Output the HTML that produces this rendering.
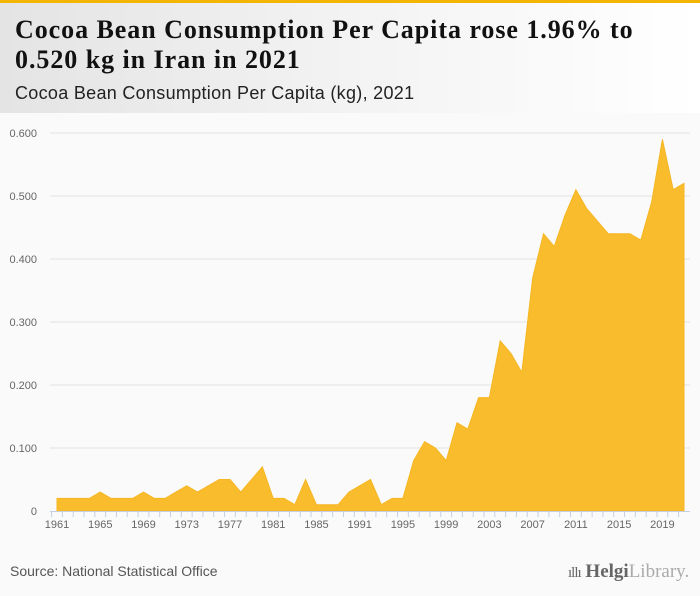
<!DOCTYPE html>
<html><head><meta charset="utf-8"><style>
body{margin:0;width:700px;height:596px;background:#fafafa;position:relative;overflow:hidden;font-family:"Liberation Sans",sans-serif}
#hdr{position:absolute;left:0;top:0;width:700px;height:113px;background:linear-gradient(90deg,#e4e4e4 0%,#f3f3f3 50%,#fff 100%);border-top:3px solid #f5b400;box-sizing:border-box}
#title{position:absolute;left:15px;top:12px;font-family:"Liberation Serif",serif;font-weight:bold;font-size:26px;line-height:30px;color:#111;letter-spacing:0.95px;white-space:nowrap}
#sub{position:absolute;left:15px;top:80px;font-size:18px;color:#222;letter-spacing:0.3px}
#src{position:absolute;left:10px;top:563px;font-size:14px;color:#555}
#logo{position:absolute;left:568px;top:561px;font-family:"Liberation Serif",serif;font-size:19px;color:#666}
</style></head><body>
<div id="hdr">
<div id="title">Cocoa Bean Consumption Per Capita rose 1.96% to<br>0.520 kg in Iran in 2021</div>
<div id="sub">Cocoa Bean Consumption Per Capita (kg), 2021</div>
</div>
<svg id="chart" width="700" height="596" style="position:absolute;left:0;top:0"></svg>
<div id="src">Source: National Statistical Office</div>
<div id="logo"><span style="font-size:15px;letter-spacing:-1px">ıllı</span> <b style="font-weight:bold;color:#666">Helgi</b><span style="color:#aaa">Library.</span></div>
<script>
const years=[1961,1962,1963,1964,1965,1966,1967,1968,1969,1970,1971,1972,1973,1974,1975,1976,1977,1978,1979,1980,1981,1982,1983,1984,1985,1988,1989,1990,1991,1992,1993,1994,1995,1996,1997,1998,1999,2000,2001,2002,2003,2004,2005,2006,2007,2008,2009,2010,2011,2012,2013,2014,2015,2016,2017,2018,2019,2020,2021];
const values=[0.02,0.02,0.02,0.02,0.03,0.02,0.02,0.02,0.03,0.02,0.02,0.03,0.04,0.03,0.04,0.05,0.05,0.03,0.05,0.07,0.02,0.02,0.01,0.05,0.01,0.01,0.01,0.03,0.04,0.05,0.01,0.02,0.02,0.08,0.11,0.10,0.08,0.14,0.13,0.18,0.18,0.27,0.25,0.22,0.37,0.44,0.42,0.47,0.51,0.48,0.46,0.44,0.44,0.44,0.43,0.49,0.59,0.51,0.52];
const yTicks=[0,0.1,0.2,0.3,0.4,0.5,0.6];
const yTickLabels=["0","0.100","0.200","0.300","0.400","0.500","0.600"];
const NS="http://www.w3.org/2000/svg";
const svg=document.getElementById('chart');
const x0=57,dx=(684-57)/(years.length-1),yBase=511,yScale=630;
const X=i=>x0+i*dx, Y=v=>yBase-v*yScale;
function mk(t,a){const e=document.createElementNS(NS,t);for(const k in a)e.setAttribute(k,a[k]);svg.appendChild(e);return e;}
yTicks.forEach((v,i)=>{
 if(v>0){const g=mk('line',{x1:50,x2:690,y1:Y(v),y2:Y(v),stroke:'#e2e2e2','stroke-width':1});
 
 }
 const t=mk('text',{x:37,y:Y(v)+4,'text-anchor':'end','font-size':11,fill:'#666','font-family':'Liberation Sans, sans-serif'});
 t.textContent=yTickLabels[i];
 
 
});
let d='M'+X(0)+','+yBase;
values.forEach((v,i)=>{d+=' L'+X(i).toFixed(1)+','+Y(v).toFixed(1);});
d+=' L'+X(values.length-1)+','+yBase+' Z';
const area=mk('path',{d:d,fill:'#f9bc2c',stroke:'#f5b622','stroke-width':1});


const ax=mk('line',{x1:50,x2:690,y1:yBase+0.5,y2:yBase+0.5,stroke:'#c5d0e3','stroke-width':1});


years.forEach((yr,i)=>{
 const tk=mk('line',{x1:X(i)-dx/2,x2:X(i)-dx/2,y1:yBase,y2:yBase+6,stroke:'#c5d0e3'});
 
 
 if(i%4===0){const t=mk('text',{x:X(i),y:528,'text-anchor':'middle','font-size':11,fill:'#666','font-family':'Liberation Sans, sans-serif'});
 t.textContent=yr;
 
 }
});
</script>
</body></html>
